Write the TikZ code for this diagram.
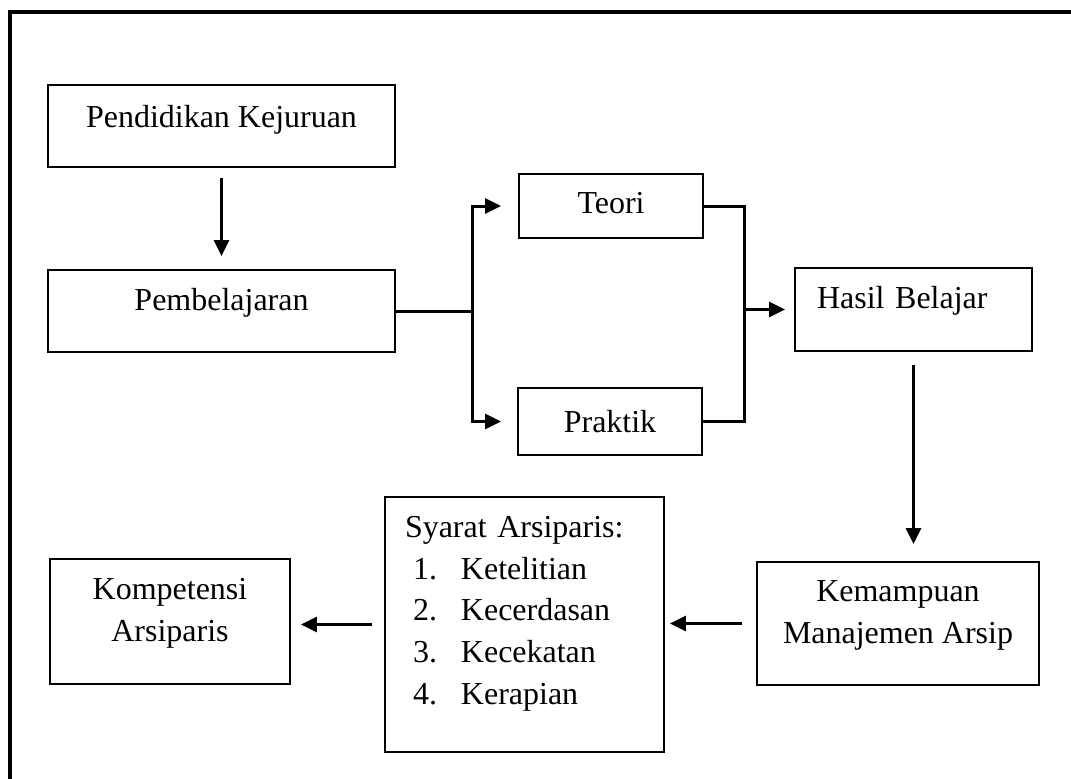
\documentclass[tikz,border=0pt]{standalone}
\usepackage{fontspec}
\setmainfont{Liberation Serif}
\usepackage{tikz}
\usetikzlibrary{calc,arrows.meta}
\tikzset{>={Triangle[length=0.32cm,width=0.3cm]}}
\tikzset{
  box/.style={draw,line width=1.1pt,inner sep=0pt,font=\fontsize{18.2}{23.8}\selectfont},
  link/.style={line width=1.7pt},
  arr/.style={link,->},
}
\newcommand{\up}[2][0.16cm]{\raisebox{#1}[\height][\depth]{#2}}

\begin{document}
\begin{tikzpicture}[x=0.02cm,y=-0.02cm]
        \useasboundingbox (0,0) rectangle (1071,778);
        \draw[line width=2.8pt] (10,800) -- (10,12) -- (1090,12);
        %%%
        \node[box,minimum width=6.94cm,minimum height=1.64cm] (pk) at (221.5,126) {\up[0.12cm]{Pendidikan Kejuruan}};
        \node[box,minimum width=6.94cm,minimum height=1.64cm] (pb) at (221.5,311) {\up{Pembelajaran}};
        \node[box,minimum width=3.68cm,minimum height=1.28cm] (teori) at (611,206) {\up[0.06cm]{Teori}};
        \node[box,minimum width=3.68cm,minimum height=1.34cm] (praktik) at (610,421.5) {Praktik};
        \node[box,text width=3.86cm,inner xsep=0.44cm,minimum height=1.66cm,align=left] (hb) at (913.5,309.5) {\up[0.18cm]{Hasil Belajar}};
        %%%
        \node[box,minimum width=5.64cm,minimum height=2.46cm] (kma) at (898,623.5)
            {\up[0.18cm]{\begin{tabular}{@{}c@{}}Kemampuan\\Manajemen Arsip\end{tabular}}};
        \node[box,text width=4.78cm,inner xsep=0.4cm,minimum height=5.1cm,align=left] (sy) at (524.5,624.5)
            {\up[0.24cm]{\begin{tabular}{@{\hspace{0.16cm}}r@{\hspace{0.48cm}}l@{}}
                \multicolumn{2}{@{}l@{}}{Syarat Arsiparis:}\\
                1. & Ketelitian\\
                2. & Kecerdasan\\
                3. & Kecekatan\\
                4. & Kerapian
            \end{tabular}}};
        \node[box,minimum width=4.8cm,minimum height=2.5cm] (ko) at (170,621.5)
            {\up[0.18cm]{\begin{tabular}{@{}c@{}}Kompetensi\\Arsiparis\end{tabular}}};
        %%%
        \draw[arr,shorten <=0.2cm,shorten >=0.26cm] (pk) -- (pb);
        %%%
        \draw[link] (pb.east) -- ++(77,0) coordinate (split);
        \draw[arr,shorten >=0.34cm] (split) |- (teori.west);
        \draw[arr,shorten >=0.32cm] (split) |- (praktik.west);
        %%%
        \draw[link] (teori.east) -- ++(41,0) coordinate (join) |- (praktik.east);
        \draw[arr,shorten >=0.18cm] (join |- hb.west) -- (hb.west);
        %%%
        \draw[arr,shorten <=0.26cm,shorten >=0.34cm] (hb.south) -- (hb.south |- kma.north);
        \draw[arr,shorten <=0.28cm,shorten >=0.1cm] (kma.west) -- (kma.west -| sy.east);
        \draw[arr,shorten <=0.24cm,shorten >=0.2cm] (sy.west) -- (sy.west -| ko.east);
        %%%
\end{tikzpicture}
\end{document}
